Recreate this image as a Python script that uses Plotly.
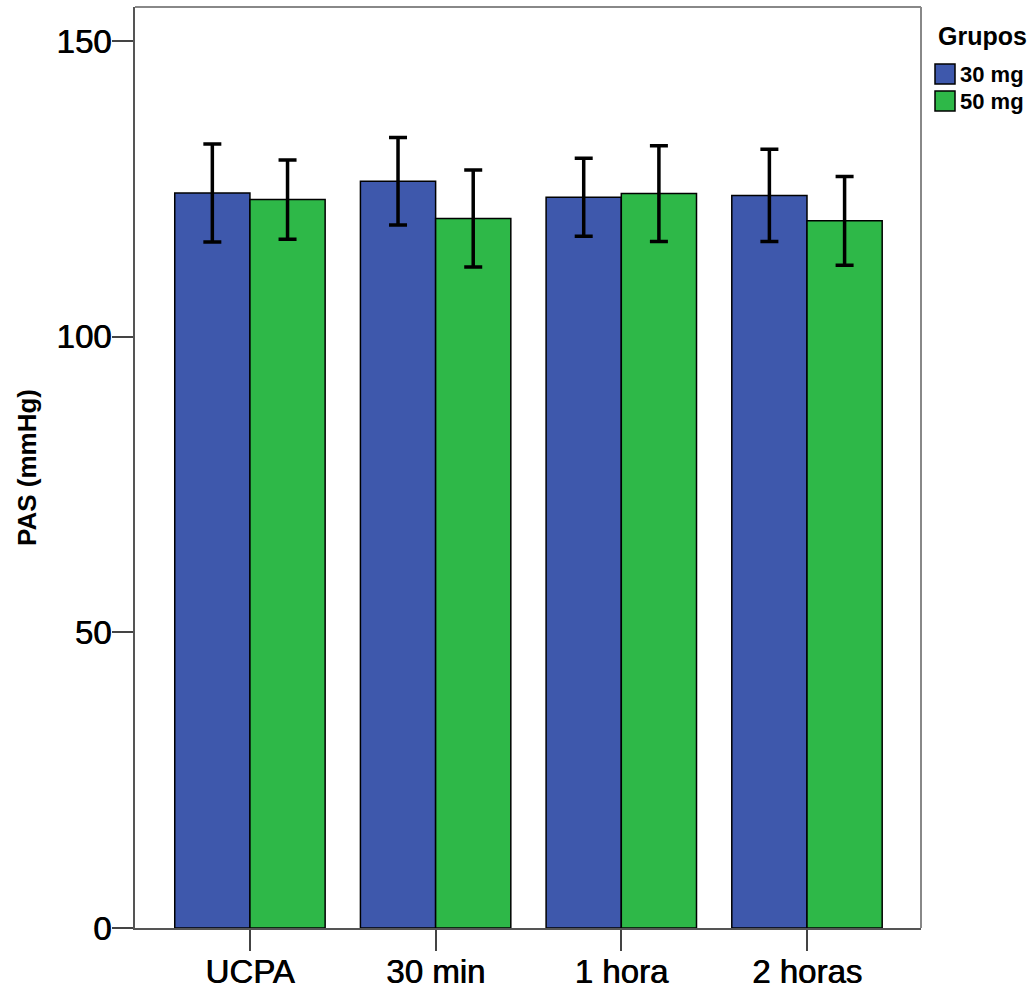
import plotly.graph_objects as go

categories = ["UCPA", "30 min", "1 hora", "2 horas"]
series_names = ["30 mg", "50 mg"]
mean_30 = [124.3, 126.3, 123.6, 123.9]
err_30 = [8.3, 7.4, 6.6, 7.8]
mean_50 = [123.2, 120.0, 124.2, 119.6]
err_50 = [6.7, 8.2, 8.1, 7.5]
y_ticks = [0, 50, 100, 150]
legend_title = "Grupos"
y_title = "PAS (mmHg)"

colors = ["#3E58AC", "#2EB848"]
FONT = "Liberation Sans, Arial, sans-serif"
THICK = "0.7px 0px 0.4px #000000"

W, H = 1034, 991
L, R, T, B = 135, 921, 7, 928  # plot area in pixels

fig = go.Figure()
for name, vals, errs, col in [(series_names[0], mean_30, err_30, colors[0]),
                              (series_names[1], mean_50, err_50, colors[1])]:
    fig.add_trace(go.Bar(
        x=categories, y=vals, name=name,
        marker=dict(color=col, line=dict(color="#000000", width=1.5)),
        error_y=dict(type="data", array=errs, visible=True,
                     color="#000000", thickness=3.5, width=9),
        showlegend=False,
    ))

fig.update_layout(
    width=W, height=H,
    margin=dict(l=L, r=W - R, t=T, b=H - B, pad=0, autoexpand=False),
    plot_bgcolor="white", paper_bgcolor="white",
    barmode="group", bargap=0.19, bargroupgap=0,
    font=dict(family=FONT, color="#000000"),
)
fig.update_xaxes(
    type="category", range=[-0.619, 3.614], automargin=False,
    showline=True, linecolor="#555555", linewidth=2,
    ticks="outside", ticklen=21, tickwidth=2, tickcolor="#444444",
    tickfont=dict(size=33, family=FONT, color="#000000", shadow=THICK),
    ticklabelstandoff=-8,
    showgrid=False, zeroline=False,
)
fig.update_yaxes(
    range=[0, 155.76], tickvals=y_ticks, automargin=False,
    showline=True, linecolor="#555555", linewidth=2,
    ticks="outside", ticklen=21, tickwidth=2, tickcolor="#444444",
    tickfont=dict(size=33, family=FONT, color="#000000", shadow=THICK),
    ticklabelstandoff=-6,
    title=dict(text=y_title, font=dict(size=26, family=FONT, weight="bold"), standoff=12),
    showgrid=False, zeroline=False,
)

# frame top/right
fig.add_shape(type="line", xref="paper", yref="paper", x0=0, x1=1, y0=1, y1=1,
              line=dict(color="#888888", width=2))
fig.add_shape(type="line", xref="paper", yref="paper", x0=1, x1=1, y0=0, y1=1,
              line=dict(color="#888888", width=2))

# manual legend
pw, ph = R - L, B - T
def px(x):
    return (x - L) / pw
def py(y):
    return (B - y) / ph

fig.add_annotation(xref="paper", yref="paper", x=px(936), y=py(36), text=legend_title,
                   showarrow=False, xanchor="left", yanchor="middle",
                   font=dict(size=25, family=FONT, weight="bold", color="#000000"))
for i, (name, col) in enumerate(zip(series_names, colors)):
    top = 64 + i * 27
    fig.add_shape(type="rect", xref="paper", yref="paper",
                  x0=px(935), x1=px(955), y0=py(top), y1=py(top + 20),
                  fillcolor=col, line=dict(color="#000000", width=1.5))
    fig.add_annotation(xref="paper", yref="paper", x=px(958), y=py(top + 10), text=name,
                       showarrow=False, xanchor="left", yanchor="middle",
                       font=dict(size=22, family=FONT, weight="bold", color="#000000"))

fig.write_html("out.html")
